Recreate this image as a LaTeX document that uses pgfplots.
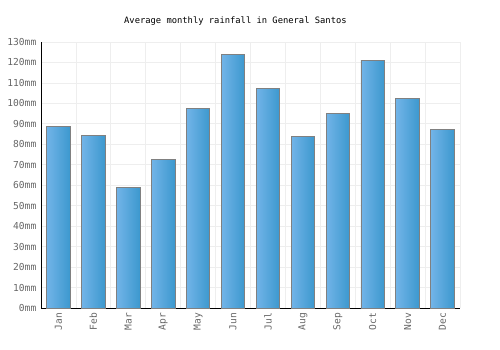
\documentclass[border=0pt]{standalone}
\usepackage{pgfplots}
\pgfplotsset{compat=1.18}
\usepackage{fontspec}
\setmainfont{DejaVu Sans Mono}
\definecolor{barL}{HTML}{72B4E8}
\definecolor{barR}{HTML}{3C98CE}
\definecolor{gridc}{HTML}{EEEEEE}
\definecolor{txt}{HTML}{666666}
\begin{document}
\begin{tikzpicture}
\useasboundingbox (-30.75pt,-31.5pt) rectangle (344.25pt,231pt);
\begin{axis}[
  at={(0pt,0pt)}, anchor=south west,
  scale only axis,
  width=314.25pt, height=199.5pt,
  xmin=-0.5, xmax=11.5, ymin=0, ymax=130,
  axis lines*=left,
  axis line style={black, line width=0.7pt},
  /pgf/number format/assume math mode=true,
  xtick={0,...,11},
  xticklabels={Jan,Feb,Mar,Apr,May,Jun,Jul,Aug,Sep,Oct,Nov,Dec},
  x tick label style={rotate=90, anchor=east, font=\fontsize{7.2pt}{8pt}\selectfont, text=txt},
  minor xtick={-0.5,0.5,...,11.5},
  xminorgrids=true, xmajorgrids=false,
  ytick={0,10,...,130},
  yticklabels={0mm,10mm,20mm,30mm,40mm,50mm,60mm,70mm,80mm,90mm,100mm,110mm,120mm,130mm},
  y tick label style={font=\fontsize{7.2pt}{8pt}\selectfont, text=txt},
  ymajorgrids=true,
  grid style={gridc, line width=0.6pt},
  minor grid style={gridc, line width=0.6pt},
  major tick length=0pt, minor tick length=0pt,
  title={Average monthly rainfall in General Santos},
  title style={at={(axis description cs:0.464,1.049)}, anchor=center, yshift=0pt, font=\fontsize{6.6pt}{8pt}\selectfont, text=black},
  mybar/.style={ybar, bar width=17.6pt, bar shift=0pt, draw=gray, line width=0.6pt, left color=barL, right color=barR},
]
\addplot[mybar] coordinates {(0,88.6)};
\addplot[mybar] coordinates {(1,84.4)};
\addplot[mybar] coordinates {(2,59.0)};
\addplot[mybar] coordinates {(3,72.7)};
\addplot[mybar] coordinates {(4,97.6)};
\addplot[mybar] coordinates {(5,124.0)};
\addplot[mybar] coordinates {(6,107.4)};
\addplot[mybar] coordinates {(7,83.9)};
\addplot[mybar] coordinates {(8,95.2)};
\addplot[mybar] coordinates {(9,121.1)};
\addplot[mybar] coordinates {(10,102.5)};
\addplot[mybar] coordinates {(11,87.3)};
\end{axis}
\end{tikzpicture}
\end{document}
